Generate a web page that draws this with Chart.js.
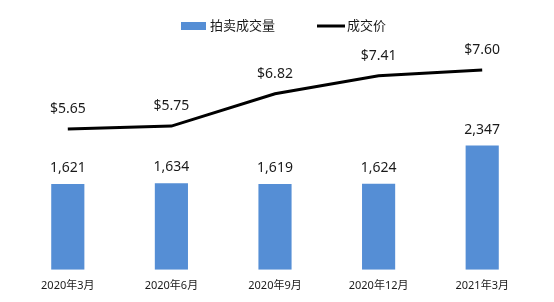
<!DOCTYPE html>
<html>
<head>
<meta charset="utf-8">
<script src="https://cdn.jsdelivr.net/npm/chart.js@4.4.1/dist/chart.umd.min.js"></script>
<style>
  html, body { margin: 0; padding: 0; background: #fff; }
  #wrap { width: 554px; height: 302px; position: relative; }
</style>
</head>
<body>
<div id="wrap"><canvas id="chart" width="554" height="302"></canvas></div>
<script>
'use strict';
var categories = ['2020年3月', '2020年6月', '2020年9月', '2020年12月', '2021年3月'];
var volumeValues = [1621, 1634, 1619, 1624, 2347];
var priceValues = [5.65, 5.75, 6.82, 7.41, 7.60];
var seriesNames = ['拍卖成交量', '成交价'];

var FONT = "'Noto Sans', 'Noto Sans CJK SC', sans-serif";
var BAR_COLOR = '#558ed5';

// value labels above bars and line points
var valueLabels = {
  id: 'valueLabels',
  afterDatasetsDraw: function(chart) {
    var ctx = chart.ctx;
    ctx.save();
    ctx.font = '14px ' + FONT;
    ctx.fillStyle = '#1a1a1a';
    ctx.textAlign = 'center';
    ctx.textBaseline = 'middle';
    chart.data.datasets.forEach(function(ds, i) {
      var meta = chart.getDatasetMeta(i);
      meta.data.forEach(function(el, j) {
        var v = ds.data[j];
        if (ds.type === 'line') {
          ctx.fillText('$' + v.toFixed(2), el.x, el.y - 20);
        } else {
          ctx.fillText(v.toLocaleString('en-US'), el.x, el.y - 16);
        }
      });
    });
    ctx.restore();
  }
};

// legend drawn by hand to sit where the original one does
var topLegend = {
  id: 'topLegend',
  afterDraw: function(chart) {
    var ctx = chart.ctx;
    var y = 26;
    ctx.save();
    ctx.font = '13px ' + FONT;
    ctx.textBaseline = 'middle';
    ctx.textAlign = 'left';
    ctx.fillStyle = BAR_COLOR;
    ctx.fillRect(181, y - 4, 25, 8);
    ctx.fillStyle = '#1a1a1a';
    ctx.fillText(seriesNames[0], 210, y);
    ctx.strokeStyle = '#000';
    ctx.lineWidth = 3;
    ctx.beginPath();
    ctx.moveTo(317, y);
    ctx.lineTo(345, y);
    ctx.stroke();
    ctx.fillText(seriesNames[1], 347, y);
    ctx.restore();
  }
};

new Chart(document.getElementById('chart'), {
  data: {
    labels: categories,
    datasets: [
      {
        type: 'line',
        label: seriesNames[1],
        data: priceValues,
        yAxisID: 'y1',
        borderColor: '#000',
        borderWidth: 3,
        pointRadius: 0,
        tension: 0,
        order: 0
      },
      {
        type: 'bar',
        label: seriesNames[0],
        data: volumeValues,
        yAxisID: 'y',
        backgroundColor: BAR_COLOR,
        barPercentage: 0.32,
        categoryPercentage: 1,
        order: 1
      }
    ]
  },
  options: {
    responsive: false,
    animation: false,
    layout: { padding: { top: 58, left: 16, right: 20, bottom: 9 } },
    plugins: {
      legend: { display: false },
      tooltip: { enabled: false }
    },
    scales: {
      x: {
        grid: { display: false },
        border: { display: false },
        ticks: { color: '#1a1a1a', font: { size: 11, family: FONT }, padding: 1, maxRotation: 0 }
      },
      y: { display: false, min: 0, max: 4000 },
      y1: { display: false, min: 1, max: 8 }
    }
  },
  plugins: [valueLabels, topLegend]
});
</script>
</body>
</html>
